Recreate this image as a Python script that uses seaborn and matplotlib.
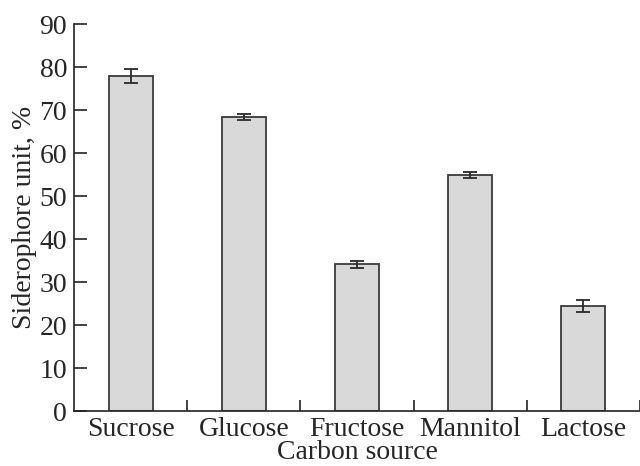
import matplotlib
matplotlib.use("Agg")
import matplotlib.pyplot as plt
import seaborn as sns
import pandas as pd
import numpy as np

categories = ["Sucrose", "Glucose", "Fructose", "Mannitol", "Lactose"]
values = [78.0, 68.4, 34.1, 55.0, 24.4]
errors = [1.6, 0.6, 0.8, 0.7, 1.4]
yticks = [0, 10, 20, 30, 40, 50, 60, 70, 80, 90]

sns.set_theme(style="ticks")
plt.rcParams['font.family'] = ['Liberation Serif', 'DejaVu Serif']

df = pd.DataFrame({"Carbon source": categories, "value": values})

fig = plt.figure(figsize=(6.4, 4.66), dpi=100)
ax = fig.add_axes([0.1156, 0.118, 0.8844, 0.830])

sns.barplot(data=df, x="Carbon source", y="value", ax=ax, color="#d9d9d9",
            edgecolor="#3a3a3a", linewidth=1.3, width=0.39, saturation=1)
ax.errorbar(np.arange(len(categories)), values, yerr=errors, fmt="none",
            ecolor="#2a2a2a", elinewidth=1.3, capsize=5, capthick=1.3)

ax.set_xlim(-0.5, 4.48)
ax.set_ylim(0, 90)
ax.set_yticks(yticks)
ax.set_yticklabels([str(t) for t in yticks], fontsize=20)
ax.set_xticks(np.arange(len(categories)))
ax.set_xticklabels(categories, fontsize=20)
ax.tick_params(axis="x", length=0, pad=4)
ax.set_xticks(np.arange(len(categories)) + 0.5, minor=True)
ax.tick_params(axis="x", which="minor", direction="in", length=8, width=1.2, color="#222222")
ax.tick_params(axis="y", direction="in", length=9, width=1.2, color="#222222", pad=5)

for s in ["top", "right"]:
    ax.spines[s].set_visible(False)
for s in ["left", "bottom"]:
    ax.spines[s].set_color("#222222")
    ax.spines[s].set_linewidth(1.2)

ax.set_xlabel("Carbon source", fontsize=20, labelpad=-1)
ax.set_ylabel("Siderophore unit, %", fontsize=20, labelpad=2)

fig.savefig("out.png", dpi=100)
